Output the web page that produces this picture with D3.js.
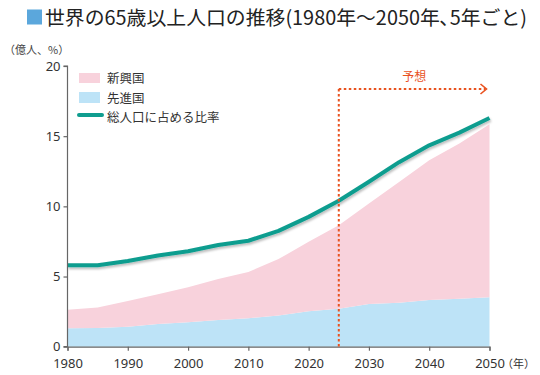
<!DOCTYPE html>
<html><head><meta charset="utf-8">
<script src="https://cdn.jsdelivr.net/npm/d3@7"></script>
<style>body{margin:0;background:#fff}svg{display:block;font-family:"Noto Sans CJK JP","Noto Sans",sans-serif}</style>
</head><body><svg id="c" width="540" height="375"></svg>
<script>
const years = [1980,1985,1990,1995,2000,2005,2010,2015,2020,2025,2030,2035,2040,2045,2050];
const developed = [1.31,1.33,1.42,1.62,1.74,1.90,2.02,2.23,2.52,2.71,3.04,3.13,3.32,3.42,3.52];
const emerging  = [1.32,1.47,1.83,2.11,2.49,2.92,3.30,4.01,4.95,5.95,7.16,8.61,9.97,11.05,12.33];
const shareOfTotal = [5.8,5.8,6.1,6.5,6.8,7.25,7.55,8.25,9.25,10.4,11.75,13.15,14.35,15.25,16.3];
const yTicks = [0,5,10,15,20];
const xTicks = [1980,1990,2000,2010,2020,2030,2040,2050];
const forecastStart = 2025;
const legendLabels = ["新興国","先進国","総人口に占める比率"];

const svg = d3.select("#c");
const x = d3.scaleLinear().domain([1980,2050]).range([67.5,489.5]);
const y = d3.scaleLinear().domain([0,20]).range([346.7,66]);

const rows = years.map((yr,i)=>({year:yr, developed:developed[i], emerging:emerging[i]}));
const stack = d3.stack().keys(["developed","emerging"])(rows);
const area = d3.area().x(d=>x(d.data.year)).y0(d=>y(d[0])).y1(d=>y(d[1]));
const colors = {developed:"#bde3f7", emerging:"#f8d2dc"};
svg.selectAll("path.a").data(stack).join("path").attr("class","a")
  .attr("d",area).attr("fill",d=>colors[d.key]);

const defs = svg.append("defs");
const f = defs.append("filter").attr("id","sh").attr("x","-5%").attr("y","-20%").attr("width","110%").attr("height","140%");
f.append("feDropShadow").attr("dx",1).attr("dy",2).attr("stdDeviation",1.2).attr("flood-color","#000").attr("flood-opacity",0.25);

const line = d3.line().x((d,i)=>x(years[i])).y(d=>y(d));
svg.append("path").attr("d",line(shareOfTotal)).attr("fill","none")
  .attr("stroke","#0f9d8f").attr("stroke-width",4).attr("stroke-linejoin","round").attr("filter","url(#sh)");

const gy = svg.append("g").attr("transform",`translate(${x(1980)},0)`)
  .call(d3.axisLeft(y).tickValues(yTicks).tickSize(4).tickPadding(3));
const gx = svg.append("g").attr("transform",`translate(0,${y(0)})`)
  .call(d3.axisBottom(x).tickValues(xTicks).tickFormat(d3.format("d")).tickSize(4).tickPadding(8));
[gy,gx].forEach(g=>{
  g.select(".domain").attr("stroke","#666").attr("stroke-width",1.2);
  g.selectAll(".tick line").attr("stroke","#666").attr("stroke-width",1.2);
  g.selectAll("text").attr("fill","#333").style("font-family","'Noto Sans','Noto Sans CJK JP',sans-serif").style("font-size","13px");
});
gy.select(".domain").attr("d",`M-4,${y(20)}H0V${y(0)}H-4`);

const orange = "#e9521f";
const topY = 89;
svg.append("line").attr("x1",x(forecastStart)).attr("x2",x(forecastStart)).attr("y1",topY).attr("y2",y(0))
  .attr("stroke",orange).attr("stroke-width",2).attr("stroke-dasharray","2.5,2.5");
svg.append("line").attr("x1",x(forecastStart)).attr("x2",x(2050)-4).attr("y1",topY).attr("y2",topY)
  .attr("stroke",orange).attr("stroke-width",2).attr("stroke-dasharray","2.5,2.5");
svg.append("path").attr("d",`M${x(2050)-9},${topY-5}L${x(2050)-3},${topY}L${x(2050)-9},${topY+5}`)
  .attr("fill","none").attr("stroke",orange).attr("stroke-width",1.6);
svg.append("text").attr("x",(x(forecastStart)+x(2050))/2).attr("y",81).attr("text-anchor","middle")
  .attr("fill",orange).style("font-size","12px").text("予想");

const lg = svg.append("g");
lg.append("rect").attr("x",79).attr("y",73).attr("width",21).attr("height",10).attr("fill",colors.emerging);
lg.append("rect").attr("x",79).attr("y",92).attr("width",21).attr("height",11).attr("fill",colors.developed);
lg.append("line").attr("x1",79).attr("x2",102).attr("y1",115).attr("y2",115).attr("stroke","#0f9d8f").attr("stroke-width",4).attr("stroke-linecap","round");
legendLabels.forEach((t,i)=>{
  lg.append("text").attr("x",107).attr("y",83+i*19.5).attr("fill","#333").style("font-size","12.5px").text(t);
});

svg.append("rect").attr("x",27).attr("y",9.5).attr("width",15).attr("height",15).attr("fill","#5ba7dc");
svg.append("text").attr("x",45).attr("y",25).attr("fill","#222").style("font-size","19.5px")
  .attr("textLength",482).attr("lengthAdjust","spacingAndGlyphs")
  .text("世界の65歳以上人口の推移(1980年～2050年､5年ごと)");
svg.append("text").attr("x",4).attr("y",54).attr("fill","#444").style("font-size","11px").text("（億人、%）");
svg.append("text").attr("x",502).attr("y",368).attr("fill","#333").style("font-size","11px").text("（年）");
</script></body></html>
